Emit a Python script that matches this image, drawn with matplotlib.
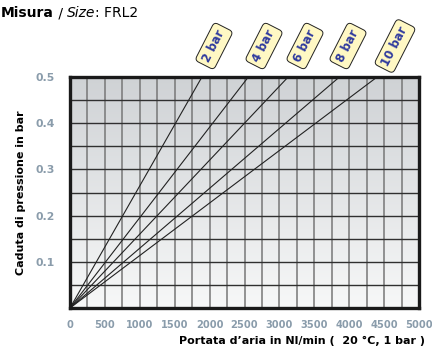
"""
Pressure drop vs air flow chart, FRL2.
"""
import numpy as np
import matplotlib.pyplot as plt
from matplotlib.colors import LinearSegmentedColormap

# curve labels and where each line leaves the top of the grid (0.5 bar)
pressures = ["2 bar", "4 bar", "6 bar", "8 bar", "10 bar"]
flow_end = [1890, 2555, 3125, 3860, 4400]
drop_end = [0.5, 0.5, 0.5, 0.5, 0.5]

x_ticks = [0, 500, 1000, 1500, 2000, 2500, 3000, 3500, 4000, 4500, 5000]
y_ticks = [0.1, 0.2, 0.3, 0.4, 0.5]

TICK_COLOR = "#8a9cab"

fig = plt.figure(figsize=(4.32, 3.53), dpi=100)
ax = fig.add_axes([70 / 432, 1 - 308 / 353, 349 / 432, 231 / 353])

# grey gradient background, darker at the top
grad = np.linspace(0, 1, 256).reshape(-1, 1)
ax.imshow(grad, extent=[0, 5000, 0, 0.5], aspect="auto", origin="lower",
          cmap=LinearSegmentedColormap.from_list("bg", ["#f7f8f8", "#cfd2d5"]),
          zorder=0)

for xv in np.arange(250, 5000, 250):
    ax.axvline(xv, color="#777777", lw=1.1, zorder=1)
for yv in np.arange(0.05, 0.5, 0.05):
    ax.axhline(yv, color="#303030", lw=1.0, zorder=1)

for name, fx, fy in zip(pressures, flow_end, drop_end):
    ax.plot([0, fx], [0, fy], color="#222222", lw=0.8, zorder=2)

ax.set_xlim(0, 5000)
ax.set_ylim(0, 0.5)
for sp in ax.spines.values():
    sp.set_linewidth(2.4)
    sp.set_color("#1a1a1a")
    sp.set_zorder(3)

ax.set_xticks(x_ticks)
ax.set_xticklabels([str(v) for v in x_ticks])
ax.set_yticks(y_ticks)
ax.set_yticklabels([f"{v:.1f}" for v in y_ticks])
ax.tick_params(length=0, labelsize=7.8, labelcolor=TICK_COLOR)
ax.tick_params(axis="x", pad=9, labelsize=7.1)
ax.tick_params(axis="y", pad=11)
for lab in ax.get_xticklabels() + ax.get_yticklabels():
    lab.set_fontweight("bold")

ax.set_ylabel("Caduta di pressione in bar", fontsize=8, fontweight="bold")
ax.yaxis.set_label_coords(-0.125, 0.5)
fig.text(0.983, 0.02, "Portata d\u2019aria in Nl/min (  20 \u00b0C, 1 bar )",
         ha="right", va="bottom", fontsize=8, fontweight="bold")

# rotated yellow tags above the curves
tag_x = [214, 264, 305, 348, 395]
for name, px in zip(pressures, tag_x):
    fig.text(px / 432, 1 - 46 / 353, name, rotation=63, ha="center",
             va="center", fontsize=8.5, fontweight="bold", color="#2f3a9e",
             bbox=dict(boxstyle="round,pad=0.35,rounding_size=0.35",
                       fc="#fff8c4", ec="#222222", lw=0.7))

# header
fig.canvas.draw()
rend = fig.canvas.get_renderer()
x = 0.002
parts = [("Misura", dict(fontweight="bold")), (" / ", {}),
         ("Size", dict(style="italic")), (": FRL2", {})]
for txt, kw in parts:
    t = fig.text(x, 0.962, txt, fontsize=10, va="center", **kw)
    bb = t.get_window_extent(renderer=rend)
    x += bb.width / fig.bbox.width

fig.savefig("out.png", dpi=100)
